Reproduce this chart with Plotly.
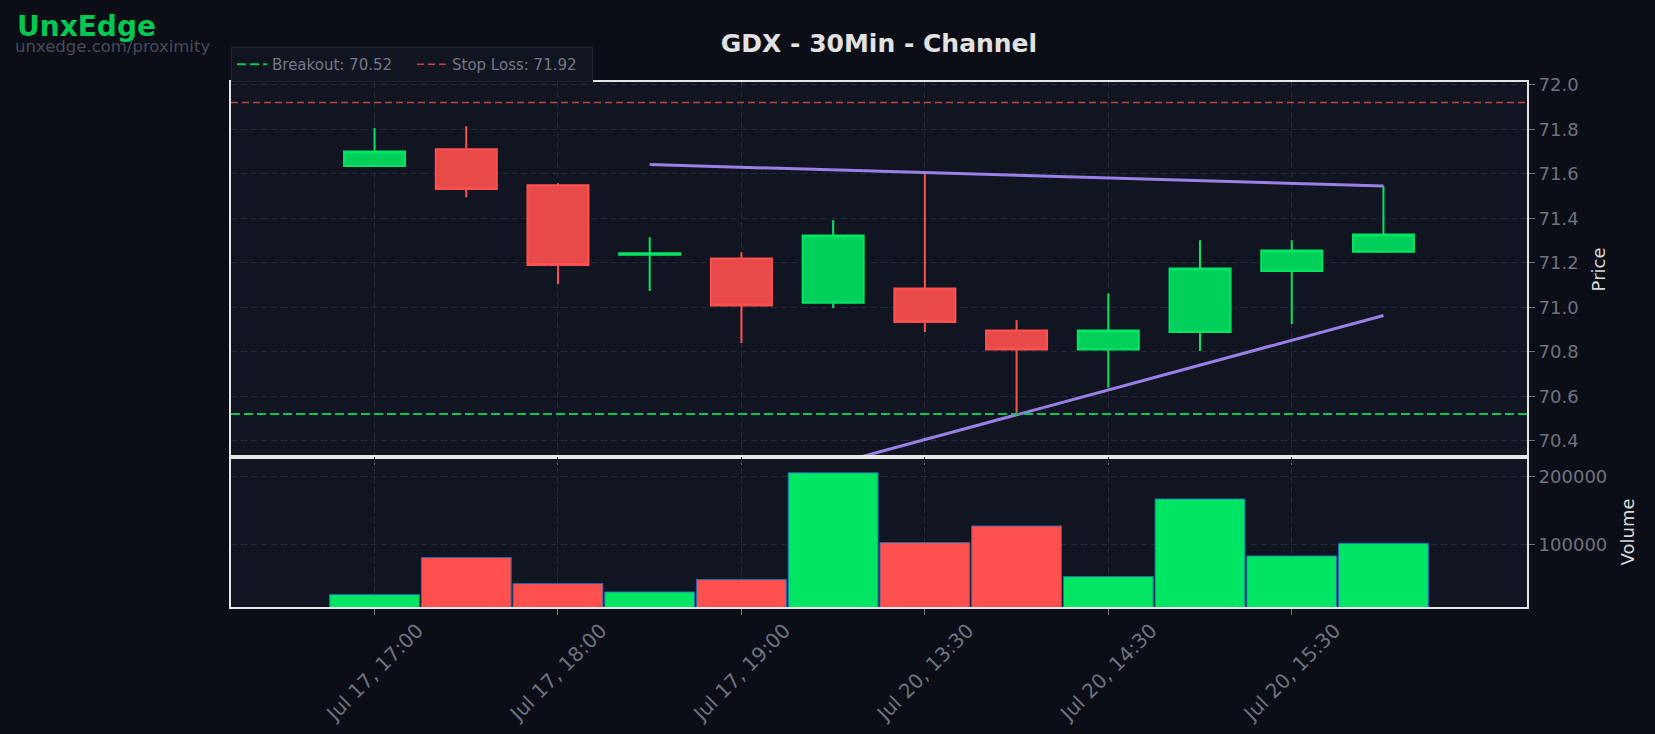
import plotly.graph_objects as go
from plotly.subplots import make_subplots

# ---- data ----
times = ["Jul 17, 17:00", "Jul 17, 17:30", "Jul 17, 18:00", "Jul 17, 18:30",
         "Jul 17, 19:00", "Jul 17, 19:30", "Jul 20, 13:30", "Jul 20, 14:00",
         "Jul 20, 14:30", "Jul 20, 15:00", "Jul 20, 15:30", "Jul 20, 16:00"]
opens  = [71.635, 71.710, 71.548, 71.236, 71.219, 71.020, 71.084, 70.896, 70.810, 70.889, 71.163, 71.249]
highs  = [71.804, 71.813, 71.557, 71.315, 71.247, 71.391, 71.600, 70.942, 71.062, 71.301, 71.301, 71.545]
lows   = [71.633, 71.494, 71.105, 71.073, 70.840, 70.997, 70.889, 70.523, 70.640, 70.804, 70.925, 71.244]
closes = [71.700, 71.531, 71.190, 71.243, 71.008, 71.322, 70.934, 70.810, 70.896, 71.174, 71.255, 71.327]
volumes = [27000, 81500, 43200, 30900, 49100, 206000, 103500, 127900, 53500, 167600, 83800, 102500]

upper_x = ["Jul 17, 18:30", "Jul 20, 16:00"]
upper_y = [71.641, 71.545]
lower_x = ["Jul 17, 18:30", "Jul 20, 16:00"]
lower_y = [70.071, 70.963]

breakout = 70.52
stop_loss = 71.92

GREEN = "#00E664"
RED = "#FF5050"
vol_colors = [GREEN if c >= o else RED for o, c in zip(opens, closes)]

fig = make_subplots(rows=2, cols=1, shared_xaxes=True, vertical_spacing=0,
                    row_heights=[0.714, 0.286])

fig.add_trace(go.Candlestick(
    x=times, open=opens, high=highs, low=lows, close=closes,
    increasing=dict(line=dict(color=GREEN, width=2), fillcolor="rgba(0,208,90,1)"),
    decreasing=dict(line=dict(color=RED, width=2), fillcolor="rgba(232,74,74,1)"),
    showlegend=False, name="GDX"), row=1, col=1)

fig.add_trace(go.Scatter(x=upper_x, y=upper_y, mode="lines",
                         line=dict(color="#9A80E6", width=3), showlegend=False), row=1, col=1)
fig.add_trace(go.Scatter(x=lower_x, y=lower_y, mode="lines",
                         line=dict(color="#9A80E6", width=3), showlegend=False), row=1, col=1)

fig.add_trace(go.Bar(x=times, y=volumes, marker=dict(color=vol_colors,
                     line=dict(color="rgba(31,110,180,0.95)", width=1)),
                     showlegend=False), row=2, col=1)

fig.add_shape(type="line", xref="x domain", yref="y", x0=0, x1=1, y0=breakout, y1=breakout,
              line=dict(color="#00C853", width=2, dash="9px,4px"),
              showlegend=True, name=f"Breakout: {breakout:.2f}")
fig.add_shape(type="line", xref="x domain", yref="y", x0=0, x1=1, y0=stop_loss, y1=stop_loss,
              line=dict(color="rgba(230,75,75,0.85)", width=1.5, dash="7px,4px"),
              showlegend=True, name=f"Stop Loss: {stop_loss:.2f}")

GRID = "#252a38"
TICKC = "#6e7380"
axis_common = dict(showline=True, linecolor="#e6e6e6", linewidth=2, mirror=True,
                   gridcolor=GRID, griddash="6px,4px", zeroline=False,
                   ticks="outside", tickcolor=TICKC, ticklen=6,
                   tickfont=dict(family="DejaVu Sans", size=18, color=TICKC))

fig.update_xaxes(type="category", range=[-1.565, 12.565], tickmode="linear", tick0=0, dtick=2,
                 tickangle=-45, rangeslider_visible=False, automargin=False, **axis_common)
fig.update_xaxes(showticklabels=False, row=1, col=1)
fig.update_xaxes(ticklabelshift=43, ticklabelstandoff=-4,
                 tickfont=dict(family="DejaVu Sans", size=20, color=TICKC),
                 row=2, col=1)

fig.update_yaxes(side="right", **axis_common)
fig.update_yaxes(range=[70.328, 72.012], dtick=0.2, tickformat=".1f",
                 title=dict(text="Price", font=dict(family="DejaVu Sans", size=18, color="#d8d8d8")),
                 row=1, col=1)
fig.update_yaxes(range=[8800, 229400], dtick=100000, tickformat="d",
                 title=dict(text="Volume", font=dict(family="DejaVu Sans", size=18, color="#d8d8d8")),
                 row=2, col=1)

fig.update_layout(
    width=1655, height=734,
    margin=dict(l=231, r=128, t=82, b=127),
    paper_bgcolor="#0b0e16", plot_bgcolor="#111521",
    font=dict(family="DejaVu Sans", color=TICKC),
    bargap=0.02, boxgap=0.05,
    title=dict(text="<b>GDX - 30Min - Channel</b>", x=0.5, xref="paper",
               y=1 - 43 / 734, yref="container", yanchor="middle", xanchor="center",
               font=dict(family="DejaVu Sans", size=25, color="#e2e2e2")),
    legend=dict(orientation="h", x=0, xanchor="left", y=1.0, yanchor="bottom",
                entrywidth=135, tracegroupgap=0,
                bgcolor="#111521", bordercolor="#1f2330", borderwidth=1,
                font=dict(family="DejaVu Sans", size=15, color="#737886")),
    annotations=[
        dict(text="<b>UnxEdge</b>", xref="paper", yref="paper", x=(15 - 231) / 1296,
             y=(607 - 27) / 525, xanchor="left", yanchor="middle", showarrow=False,
             font=dict(family="DejaVu Sans", size=28, color="#00C853")),
        dict(text="unxedge.com/proximity", xref="paper", yref="paper", x=(13 - 231) / 1296,
             y=(607 - 46) / 525, xanchor="left", yanchor="middle", showarrow=False,
             font=dict(family="DejaVu Sans", size=16.5, color="#464b58")),
    ],
)

fig.write_html("out.html")
